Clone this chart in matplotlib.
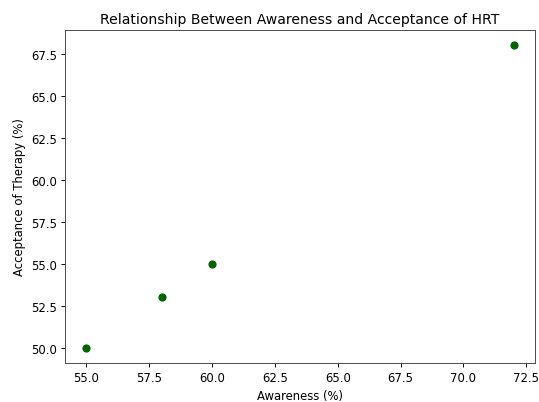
import matplotlib
matplotlib.use("Agg")
import matplotlib.pyplot as plt

awareness = [55, 58, 60, 72]
acceptance = [50, 53, 55, 68]

DPI = 539 / 6.4
fig, ax = plt.subplots(figsize=(6.4, 403 / DPI), dpi=DPI)
ax.scatter(awareness, acceptance, color="darkgreen")
ax.set_title("Relationship Between Awareness and Acceptance of HRT")
ax.set_xlabel("Awareness (%)")
ax.set_ylabel("Acceptance of Therapy (%)")
for s in ax.spines.values():
    s.set_color("#444444")
fig.subplots_adjust(left=65 / 539, right=535 / 539, top=1 - 31 / 403, bottom=1 - 364 / 403)
fig.savefig("out.png", dpi=DPI)
